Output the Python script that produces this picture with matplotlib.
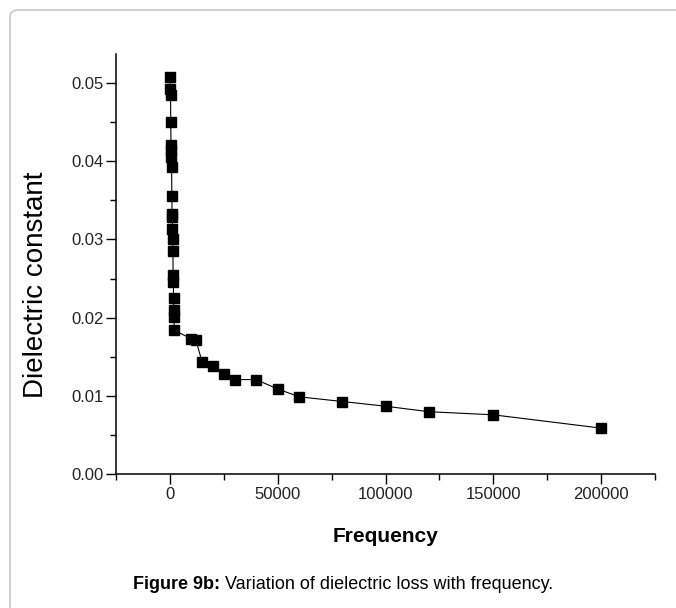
import matplotlib
matplotlib.use("Agg")
import matplotlib.pyplot as plt
from matplotlib.patches import FancyBboxPatch
from matplotlib.ticker import MultipleLocator, FormatStrFormatter

# frequency (Hz) and dielectric values
freq = [100, 200, 300, 400, 500, 600, 700, 800, 900, 1000,
        1100, 1200, 1300, 1400, 1500, 1600, 1700, 1800, 1900, 2000,
        10000, 12000, 15000, 20000, 25000, 30000, 40000, 50000, 60000,
        80000, 100000, 120000, 150000, 200000]
diel = [0.0507, 0.0492, 0.0485, 0.0450, 0.0421, 0.0414, 0.0406, 0.0392, 0.0355, 0.0333,
        0.0329, 0.0314, 0.0300, 0.0285, 0.0254, 0.0246, 0.0225, 0.0210, 0.0201, 0.0184,
        0.0173, 0.0172, 0.0143, 0.0138, 0.0128, 0.0121, 0.0121, 0.0109, 0.0099,
        0.0093, 0.0087, 0.0080, 0.0076, 0.0059]

xlabel = "Frequency"
ylabel = "Dielectric constant"
caption_bold = "Figure 9b:"
caption_rest = " Variation of dielectric loss with frequency."

plt.rcParams['font.family'] = ['Liberation Sans', 'DejaVu Sans']

fig = plt.figure(figsize=(6.76, 6.08), dpi=100)

# light grey rounded frame around the figure (cut off at right/bottom)
frame = FancyBboxPatch((10 / 676, -0.1), 1.2, 1.1 - 10 / 608,
                       boxstyle="round,pad=0,rounding_size=0.012",
                       transform=fig.transFigure, fill=False,
                       edgecolor="#bdbdbd", linewidth=1.0, zorder=0)
fig.patches.append(frame)

ax = fig.add_axes([116 / 676, 1 - 474.3 / 608, 539 / 676, (474.3 - 54) / 608])
ax.plot(freq, diel, color="black", linewidth=0.8, marker="s",
        markersize=6.8, markerfacecolor="black", markeredgecolor="black")

ax.set_xlim(-25000, 225000)
ax.set_ylim(0, 0.0537)
ax.xaxis.set_major_locator(MultipleLocator(50000))
ax.xaxis.set_minor_locator(MultipleLocator(25000))
ax.yaxis.set_major_locator(MultipleLocator(0.01))
ax.yaxis.set_minor_locator(MultipleLocator(0.005))
ax.yaxis.set_major_formatter(FormatStrFormatter("%.2f"))

for s in ["top", "right"]:
    ax.spines[s].set_visible(False)
for s in ["left", "bottom"]:
    ax.spines[s].set_linewidth(1.1)

ax.tick_params(which="major", direction="out", length=7, width=1.0,
               labelsize=12, pad=2, colors="black")
ax.tick_params(which="minor", direction="out", length=4, width=1.0)
for lab in ax.get_xticklabels() + ax.get_yticklabels():
    lab.set_color("#222222")

ax.set_xlabel(xlabel, fontsize=15, fontweight="bold", labelpad=18)
ax.set_ylabel(ylabel, fontsize=20)
ax.yaxis.set_label_coords(-0.125, 0.45)

cap = fig.text(133 / 676, 0.032, caption_bold, fontsize=13, fontweight="bold",
               ha="left", va="baseline")
ax.annotate(caption_rest, xy=(1, 0), xycoords=cap, fontsize=13,
            ha="left", va="bottom", annotation_clip=False)

fig.savefig("out.png", dpi=100)
